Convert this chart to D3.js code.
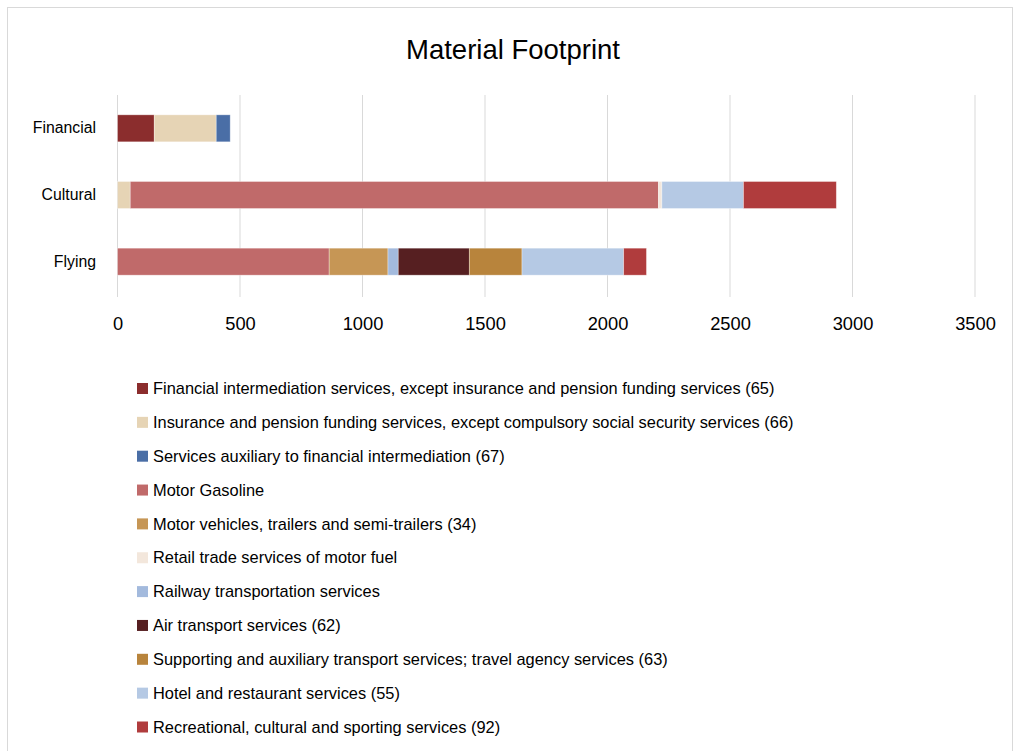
<!DOCTYPE html>
<html><head><meta charset="utf-8">
<script src="https://cdn.jsdelivr.net/npm/d3@7"></script>
<style>body{margin:0;background:#fff;}svg{display:block;font-family:"Liberation Sans",Arial,sans-serif;}</style>
</head><body><svg id="c" width="1014" height="751"></svg>
<script>
const categories = ["Financial", "Cultural", "Flying"];
const seriesNames = [
  "Financial intermediation services, except insurance and pension funding services (65)",
  "Insurance and pension funding services, except compulsory social security services (66)",
  "Services auxiliary to financial intermediation (67)",
  "Motor Gasoline",
  "Motor vehicles, trailers and semi-trailers (34)",
  "Retail trade services of motor fuel",
  "Railway transportation services",
  "Air transport services (62)",
  "Supporting and auxiliary transport services; travel agency services (63)",
  "Hotel and restaurant services (55)",
  "Recreational, cultural and sporting services (92)"
];
// values per series: [Financial, Cultural, Flying]
const finIntermediation = [150, 0, 0];
const insurancePension = [253, 52, 0];
const finAuxiliary = [57, 0, 0];
const motorGasoline = [0, 2156, 864];
const motorVehicles = [0, 0, 240];
const retailFuel = [0, 14, 0];
const railway = [0, 0, 42];
const airTransport = [0, 0, 290];
const supportingTransport = [0, 0, 215];
const hotelRestaurant = [0, 333, 415];
const recreational = [0, 379, 93];
const xTicks = [0, 500, 1000, 1500, 2000, 2500, 3000, 3500];
const colors = ["#8B2D2D", "#E6D4B5", "#4A6EA6", "#C06A6A", "#C69655", "#F3E7DC", "#A3BADD", "#561F21", "#B8843C", "#B5C9E4", "#B03C3D"];

const seriesValues = [finIntermediation, insurancePension, finAuxiliary, motorGasoline, motorVehicles, retailFuel, railway, airTransport, supportingTransport, hotelRestaurant, recreational];

const svg = d3.select("#c");
svg.append("rect").attr("x", 7.5).attr("y", 7.5).attr("width", 1005).attr("height", 760)
  .attr("fill", "#fff").attr("stroke", "#d9d9d9");

svg.append("text").attr("x", 513).attr("y", 59).attr("text-anchor", "middle")
  .attr("font-size", 27.5).attr("fill", "#000").text("Material Footprint");

const x = d3.scaleLinear().domain([0, 3500]).range([117.5, 975]);
const y = d3.scaleBand().domain(categories).range([95, 295]).paddingInner(0.595).paddingOuter(0.2975);

svg.append("g").selectAll("line").data(xTicks).join("line")
  .attr("x1", d => x(d)).attr("x2", d => x(d)).attr("y1", 95).attr("y2", 297)
  .attr("stroke", "#d9d9d9").attr("stroke-width", 1);

const table = categories.map((c, i) => {
  const o = {cat: c};
  seriesNames.forEach((s, j) => o[s] = seriesValues[j][i]);
  return o;
});
const stack = d3.stack().keys(seriesNames)(table);
const gb = svg.append("g");
stack.forEach((layer, j) => {
  gb.append("g").attr("fill", colors[j]).selectAll("rect").data(layer.filter(d => d[1] - d[0] > 0)).join("rect")
    .attr("x", d => x(d[0])).attr("width", d => x(d[1]) - x(d[0]))
    .attr("y", d => y(d.data.cat)).attr("height", y.bandwidth())
    .attr("stroke", "rgba(255,255,255,0.45)").attr("stroke-width", 0.75);
});

const xa = svg.append("g").attr("transform", "translate(0,297)")
  .call(d3.axisBottom(x).tickValues(xTicks).tickSize(0).tickPadding(20).tickFormat(d3.format("d")));
xa.select(".domain").remove();
xa.selectAll("text").attr("font-size", 18.3).attr("fill", "#000").attr("font-family", "Liberation Sans, Arial, sans-serif");

const ya = svg.append("g").attr("transform", "translate(117,0)")
  .call(d3.axisLeft(y).tickSize(0).tickPadding(21));
ya.select(".domain").remove();
ya.selectAll("text").attr("font-size", 15.8).attr("fill", "#000").attr("font-family", "Liberation Sans, Arial, sans-serif");

const lg = svg.append("g");
const ly = d3.scaleLinear().domain([0, 10]).range([388.5, 727]);
seriesNames.forEach((s, j) => {
  lg.append("rect").attr("x", 137).attr("y", ly(j) - 5.5).attr("width", 11).attr("height", 11).attr("fill", colors[j]);
  lg.append("text").attr("x", 153).attr("y", ly(j)).attr("dy", "0.35em")
    .attr("font-size", 16.4).attr("fill", "#000").text(s);
});
</script></body></html>
